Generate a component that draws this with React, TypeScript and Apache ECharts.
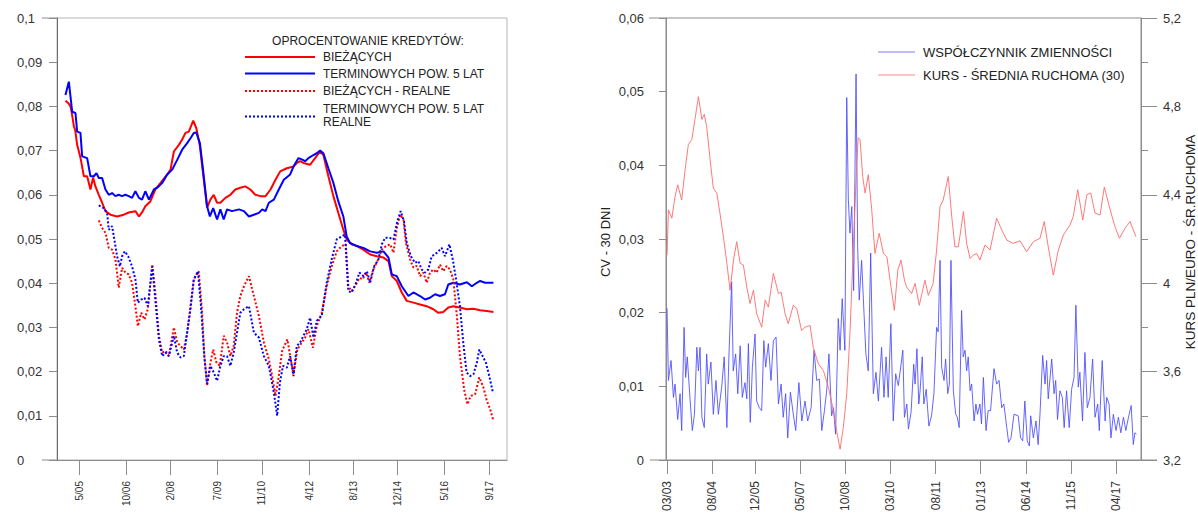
import React, { useEffect, useRef } from 'react';
import * as echarts from 'echarts';

const FONT = '"Liberation Sans", Arial, Helvetica, sans-serif';

// ---------- LEFT PANEL (x = months counted from 1/2005, 0 = 1/05) ----------
const LEFT_TICK_MONTHS = [4, 21, 37, 54, 70, 87, 103, 119, 136, 152];
const LEFT_TICK_LABELS = ['5/05', '10/06', '2/08', '7/09', '11/10', '4/12', '8/13', '12/14', '5/16', '9/17'];

const LEGEND_TITLE = 'OPROCENTOWANIE KREDYTÓW:';
const LEFT_NAMES = ['BIEŻĄCYCH', 'TERMINOWYCH POW. 5 LAT', 'BIEŻĄCYCH - REALNE', 'TERMINOWYCH POW. 5 LAT\nREALNE'];

const CURRENT: number[][] = [
  [-0.95, 0.0813], [0.14, 0.0807], [0.86, 0.08], [1.36, 0.0785], [2.09, 0.0755], [2.56, 0.0747], [3.28, 0.0713],
  [4.47, 0.0684], [5.7, 0.0642], [6.89, 0.0642], [8.08, 0.0612], [9.05, 0.0639], [9.88, 0.0619], [11.1, 0.06],
  [12.3, 0.0582], [13.5, 0.0563], [15.3, 0.0555], [17.7, 0.0551], [20.1, 0.0555], [21.9, 0.056], [24.3, 0.0563],
  [25.6, 0.0551], [26.7, 0.056], [27.9, 0.0574], [29.7, 0.0585], [31.5, 0.0612], [33.4, 0.0627], [35.8, 0.0646],
  [37.0, 0.0657], [38.2, 0.0698], [40.0, 0.0713], [41.2, 0.0725], [42.4, 0.074], [43.6, 0.0743], [45.2, 0.0768],
  [46.3, 0.0751], [47.6, 0.071], [49.0, 0.0634], [50.2, 0.0571], [51.4, 0.0589], [52.6, 0.06], [53.8, 0.0582],
  [55.0, 0.0582], [56.8, 0.0593], [58.6, 0.06], [60.4, 0.0612], [62.2, 0.0616], [64.0, 0.0619], [65.8, 0.0612],
  [67.6, 0.06], [69.5, 0.0597], [71.3, 0.0597], [73.1, 0.0612], [74.9, 0.0634], [76.6, 0.0653], [79.0, 0.066],
  [81.4, 0.0664], [82.6, 0.0672], [83.8, 0.0676], [85.0, 0.0672], [87.4, 0.0668], [89.2, 0.0683], [91.0, 0.0698],
  [92.2, 0.069], [94.0, 0.0642], [95.8, 0.0597], [97.6, 0.0559], [99.4, 0.0521], [100.6, 0.0499], [102.4, 0.0488],
  [104.3, 0.0484], [106.6, 0.0476], [109.1, 0.0465], [111.5, 0.0461], [113.9, 0.0458], [115.7, 0.045], [116.9, 0.0416],
  [118.7, 0.0405], [120.5, 0.0379], [122.3, 0.036], [124.7, 0.0356], [127.1, 0.0352], [129.5, 0.0348], [131.9, 0.0341],
  [133.7, 0.0333], [135.5, 0.0335], [137.3, 0.0345], [139.1, 0.0348], [141.5, 0.0345], [144.0, 0.0341], [146.3, 0.0342],
  [148.8, 0.0339], [151.2, 0.0337], [153.6, 0.0335],
];

const TERM5: number[][] = [
  [-0.95, 0.0826], [0.28, 0.0856], [1.47, 0.0788], [2.66, 0.0785], [3.28, 0.0743], [4.47, 0.074], [5.08, 0.0687],
  [6.89, 0.0683], [8.08, 0.0642], [9.31, 0.0642], [10.25, 0.0649], [11.1, 0.0638], [12.3, 0.0638], [13.5, 0.0612],
  [14.7, 0.06], [15.9, 0.0604], [17.1, 0.0597], [18.3, 0.06], [19.5, 0.0597], [20.7, 0.06], [21.9, 0.0597],
  [23.1, 0.0593], [24.3, 0.0608], [25.6, 0.0593], [26.7, 0.0589], [27.9, 0.0608], [29.2, 0.0589], [31.0, 0.0612],
  [32.2, 0.0616], [34.0, 0.0627], [35.8, 0.0646], [37.6, 0.0657], [39.4, 0.0679], [41.2, 0.0702], [43.0, 0.0717],
  [44.2, 0.0728], [45.4, 0.074], [46.3, 0.0741], [47.6, 0.0717], [49.0, 0.0642], [50.2, 0.0574], [51.2, 0.0551],
  [52.4, 0.057], [53.8, 0.0544], [55.0, 0.0567], [56.2, 0.0544], [57.4, 0.0567], [59.2, 0.0563], [61.7, 0.0567],
  [63.5, 0.0563], [65.3, 0.0551], [67.1, 0.0555], [68.9, 0.0559], [70.1, 0.0567], [71.3, 0.0563], [72.5, 0.0582],
  [74.3, 0.0589], [76.1, 0.0612], [77.9, 0.0634], [80.2, 0.0646], [81.4, 0.0664], [83.2, 0.0683], [84.4, 0.068],
  [85.6, 0.0676], [86.8, 0.0683], [88.6, 0.069], [89.8, 0.0694], [91.0, 0.07], [92.2, 0.0694], [94.0, 0.066],
  [95.8, 0.0627], [97.6, 0.0585], [99.4, 0.0551], [100.6, 0.0506], [101.8, 0.0491], [104.3, 0.0484], [106.6, 0.048],
  [109.1, 0.0472], [111.5, 0.0469], [113.9, 0.0472], [115.7, 0.0458], [116.9, 0.042], [118.7, 0.0416], [120.5, 0.0393],
  [122.9, 0.0371], [124.7, 0.0379], [127.1, 0.0371], [128.9, 0.0363], [130.7, 0.0367], [132.5, 0.0375], [134.3, 0.0371],
  [136.1, 0.0375], [137.3, 0.0397], [139.1, 0.0401], [141.5, 0.0397], [144.0, 0.0402], [145.8, 0.0393], [147.6, 0.0401],
  [148.8, 0.0405], [150.6, 0.0401], [153.6, 0.0401],
];

const CURRENT_REAL: number[][] = [
  [11.1, 0.0542], [12.3, 0.0525], [13.5, 0.0514], [14.7, 0.048], [15.9, 0.0476], [17.1, 0.0454], [18.3, 0.039],
  [19.5, 0.0435], [20.7, 0.0424], [21.9, 0.042], [23.1, 0.0401], [24.3, 0.0348], [25.2, 0.0303], [26.4, 0.0333],
  [27.6, 0.0318], [28.8, 0.0341], [30.4, 0.0442], [31.5, 0.0379], [32.8, 0.0281], [34.0, 0.0243], [35.2, 0.0247],
  [36.4, 0.0235], [38.2, 0.03], [39.4, 0.0266], [40.6, 0.0258], [41.8, 0.025], [43.0, 0.0288], [44.2, 0.0348],
  [45.4, 0.0409], [47.2, 0.0427], [48.4, 0.0333], [49.2, 0.0235], [50.2, 0.0168], [51.4, 0.022], [52.4, 0.025],
  [53.6, 0.022], [54.8, 0.0213], [56.2, 0.0281], [57.4, 0.0266], [58.6, 0.0235], [59.8, 0.0258], [61.0, 0.0333],
  [62.2, 0.0371], [63.5, 0.0393], [65.3, 0.0416], [67.1, 0.0371], [68.9, 0.0326], [70.7, 0.0266], [72.5, 0.0228],
  [73.7, 0.019], [74.9, 0.0145], [76.1, 0.019], [77.3, 0.0247], [79.2, 0.0273], [80.2, 0.0235], [81.4, 0.0194],
  [82.8, 0.025], [84.4, 0.0266], [85.6, 0.0277], [86.8, 0.0296], [88.4, 0.0254], [89.8, 0.0303], [91.6, 0.0333],
  [93.4, 0.0393], [95.2, 0.0438], [97.0, 0.0472], [98.8, 0.0484], [100.3, 0.0488], [101.2, 0.0393], [102.4, 0.0382],
  [104.0, 0.0397], [105.2, 0.0412], [106.4, 0.0409], [107.6, 0.0424], [108.8, 0.0401], [110.2, 0.0431], [111.7, 0.045],
  [113.3, 0.0476], [114.8, 0.0484], [116.3, 0.0488], [117.5, 0.0469], [118.7, 0.0525], [119.9, 0.0555], [121.1, 0.0544],
  [122.0, 0.0491], [123.5, 0.0454], [124.7, 0.0435], [125.9, 0.0439], [127.1, 0.0416], [128.3, 0.0424], [129.5, 0.0401],
  [130.7, 0.0424], [131.9, 0.0431], [133.1, 0.0424], [134.3, 0.0442], [135.5, 0.0427], [136.7, 0.0439], [137.9, 0.0431],
  [139.1, 0.0409], [140.4, 0.0326], [141.5, 0.0235], [143.0, 0.016], [144.2, 0.0126], [145.4, 0.0145], [147.0, 0.0149],
  [148.5, 0.0187], [150.0, 0.0164], [151.2, 0.0134], [152.4, 0.0115], [153.6, 0.0089],
];

const TERM5_REAL: number[][] = [
  [11.1, 0.0576], [12.9, 0.057], [14.1, 0.0559], [14.7, 0.0521], [15.9, 0.0529], [16.7, 0.0499], [17.7, 0.0461],
  [18.7, 0.0438], [19.5, 0.0461], [20.5, 0.0472], [21.7, 0.0461], [23.1, 0.0438], [24.3, 0.0409], [25.2, 0.0356],
  [26.4, 0.0363], [27.6, 0.0367], [28.8, 0.0348], [30.4, 0.0438], [31.5, 0.0363], [32.8, 0.0273], [34.0, 0.0235],
  [35.2, 0.0243], [36.4, 0.0235], [38.2, 0.0281], [39.4, 0.0243], [40.6, 0.0232], [41.8, 0.0235], [43.0, 0.0288],
  [44.2, 0.0341], [45.4, 0.0409], [46.9, 0.0427], [48.0, 0.0348], [49.2, 0.0235], [50.2, 0.0172], [51.4, 0.0213],
  [52.6, 0.0198], [53.8, 0.0179], [55.0, 0.0213], [56.2, 0.0235], [57.4, 0.0235], [58.6, 0.0213], [59.8, 0.0243],
  [61.0, 0.0288], [62.2, 0.0333], [63.5, 0.0341], [65.3, 0.0348], [67.1, 0.0288], [68.9, 0.0277], [70.7, 0.0235],
  [72.5, 0.0213], [74.3, 0.0153], [75.5, 0.01], [76.5, 0.0175], [77.6, 0.0213], [79.0, 0.0209], [80.2, 0.0235],
  [81.4, 0.019], [82.6, 0.0258], [83.8, 0.0266], [85.0, 0.0281], [86.2, 0.0296], [87.4, 0.0322], [88.6, 0.0277],
  [89.8, 0.0315], [91.6, 0.0326], [93.4, 0.0401], [95.2, 0.0454], [97.0, 0.0499], [98.8, 0.0506], [100.0, 0.051],
  [101.2, 0.0382], [102.4, 0.0379], [104.0, 0.0401], [105.2, 0.0424], [106.7, 0.0416], [107.9, 0.0427], [109.1, 0.0401],
  [110.5, 0.0438], [112.1, 0.0454], [113.3, 0.0488], [114.5, 0.0503], [116.0, 0.0503], [117.5, 0.0499], [118.9, 0.054],
  [120.1, 0.0563], [121.3, 0.054], [122.3, 0.0491], [123.8, 0.0461], [125.3, 0.0446], [126.5, 0.045], [127.7, 0.0431],
  [128.9, 0.0424], [130.1, 0.0431], [131.3, 0.0461], [132.5, 0.0465], [133.7, 0.0472], [134.9, 0.048], [136.1, 0.0461],
  [137.7, 0.0488], [138.9, 0.0454], [140.1, 0.0409], [141.5, 0.0348], [142.7, 0.0266], [143.9, 0.0198], [145.2, 0.019],
  [146.4, 0.0194], [147.6, 0.022], [148.5, 0.025], [149.7, 0.0235], [150.9, 0.022], [152.1, 0.019], [153.4, 0.0153],
];

// ---------- RIGHT PANEL (x = months counted from 03/2003, 0 = 03/03) ----------
const RIGHT_TICK_MONTHS = [0, 17, 33, 50, 67, 84, 101, 118, 135, 152, 169];
const RIGHT_TICK_LABELS = ['03/03', '08/04', '12/05', '05/07', '10/08', '03/10', '08/11', '01/13', '06/14', '11/15', '04/17'];
const RIGHT_NAMES = ['WSPÓŁCZYNNIK ZMIENNOŚCI', 'KURS - ŚREDNIA RUCHOMA (30)'];
const CV_AXIS_NAME = 'CV - 30 DNI';
const FX_AXIS_NAME = 'KURS PLN/EURO - ŚR.RUCHOMA';

const CV: number[][] = [
  [0, 0.0206], [0.5, 0.0108], [1.5, 0.0135], [2.4, 0.0085], [3.0, 0.0103], [4.0, 0.0055], [4.9, 0.009], [5.5, 0.004],
  [6.4, 0.018], [7.0, 0.0112], [7.6, 0.014], [8.6, 0.0085], [9.5, 0.004], [10.3, 0.0062], [11.2, 0.0153], [11.8, 0.0121],
  [12.4, 0.0153], [13.1, 0.0058], [14.0, 0.0044], [14.9, 0.0144], [15.5, 0.0103], [16.5, 0.0133], [17.4, 0.0062],
  [18.4, 0.0108], [19.3, 0.0062], [20.6, 0.0101], [21.5, 0.014], [22.5, 0.0044], [23.3, 0.0144], [24.3, 0.0242],
  [24.9, 0.0121], [25.8, 0.0144], [26.6, 0.009], [27.5, 0.0155], [28.3, 0.0085], [29.3, 0.0105], [30.0, 0.0083],
  [30.6, 0.0158], [31.3, 0.0051], [32.1, 0.0126], [33.1, 0.0171], [33.7, 0.008], [34.7, 0.0071], [35.6, 0.0067],
  [36.4, 0.0162], [37.1, 0.0126], [38.1, 0.0158], [39.1, 0.0108], [40.0, 0.0162], [41.0, 0.0167], [41.9, 0.0076],
  [42.9, 0.0103], [43.7, 0.0058], [44.6, 0.009], [45.4, 0.003], [46.4, 0.0092], [47.5, 0.0062], [48.4, 0.004],
  [49.6, 0.0105], [50.7, 0.0053], [51.9, 0.008], [52.9, 0.0053], [54.2, 0.0071], [55.3, 0.0149], [56.3, 0.0108],
  [57.3, 0.011], [58.2, 0.004], [59.2, 0.0067], [60.1, 0.0096], [60.9, 0.0144], [61.9, 0.006], [62.6, 0.0071],
  [63.4, 0.0035], [64.4, 0.0192], [65.1, 0.0149], [65.9, 0.0219], [66.9, 0.0149], [67.6, 0.0492], [68.2, 0.0353],
  [68.8, 0.0308], [69.5, 0.0344], [70.2, 0.023], [71.1, 0.0524], [71.7, 0.029], [72.3, 0.0217], [73.2, 0.0271],
  [74.1, 0.0199], [74.8, 0.0144], [75.7, 0.0121], [76.6, 0.0281], [77.6, 0.009], [78.6, 0.0119], [79.5, 0.008],
  [80.7, 0.0153], [81.6, 0.0085], [82.4, 0.014], [83.2, 0.0085], [84.2, 0.0185], [85.1, 0.0053], [86.0, 0.0117],
  [87.0, 0.0101], [88.7, 0.0149], [89.3, 0.0058], [90.2, 0.0076], [90.8, 0.0042], [91.8, 0.0065], [92.8, 0.013],
  [93.3, 0.0103], [94.0, 0.0151], [94.7, 0.0076], [95.2, 0.0094], [96.0, 0.014], [96.6, 0.0076], [97.5, 0.0096],
  [98.5, 0.0046], [99.5, 0.006], [100.4, 0.009], [101.4, 0.018], [102.0, 0.0174], [102.7, 0.0271], [103.3, 0.0126],
  [104.2, 0.0108], [104.8, 0.0137], [105.6, 0.009], [106.2, 0.0103], [106.8, 0.0271], [107.7, 0.0094], [108.6, 0.0062],
  [109.2, 0.0058], [109.9, 0.0044], [110.8, 0.0203], [111.4, 0.014], [112.1, 0.0149], [112.7, 0.0121], [113.3, 0.014],
  [114.0, 0.0094], [114.6, 0.0103], [115.5, 0.0053], [116.2, 0.0076], [116.8, 0.0062], [117.7, 0.0076], [118.3, 0.0049],
  [119.0, 0.0112], [120.0, 0.004], [120.8, 0.0067], [121.7, 0.0067], [123.0, 0.0124], [124.0, 0.0103], [124.9, 0.0108],
  [125.9, 0.0071], [126.7, 0.0076], [127.8, 0.0044], [128.5, 0.0024], [129.4, 0.003], [130.5, 0.0062], [132.1, 0.006],
  [133.0, 0.003], [133.8, 0.0026], [134.6, 0.008], [135.5, 0.0026], [136.3, 0.0019], [136.8, 0.006], [137.8, 0.003],
  [138.8, 0.0053], [139.6, 0.0021], [140.3, 0.0062], [141.3, 0.0142], [142.2, 0.0103], [142.8, 0.0135], [143.4, 0.0083],
  [144.7, 0.0137], [145.6, 0.009], [146.2, 0.0108], [146.9, 0.0055], [147.8, 0.0094], [148.7, 0.0085], [149.4, 0.0044],
  [150.3, 0.0094], [151.3, 0.0044], [152.2, 0.0096], [153.1, 0.0112], [153.8, 0.021], [154.7, 0.0099], [155.3, 0.0119],
  [156.3, 0.0053], [157.2, 0.0146], [158.1, 0.0071], [159.1, 0.0085], [160.1, 0.0137], [161.0, 0.0058], [162.0, 0.0076],
  [162.6, 0.004], [163.7, 0.0135], [164.8, 0.0053], [165.4, 0.0085], [166.3, 0.0076], [167.0, 0.003], [167.9, 0.0062],
  [168.9, 0.004], [169.8, 0.0058], [170.7, 0.0037], [171.7, 0.0058], [172.6, 0.004], [173.6, 0.0058], [174.6, 0.0074],
  [175.4, 0.0021], [176.0, 0.0037], [176.6, 0.0035],
];

const FX_MA: number[][] = [
  [0, 4.127], [0.5, 4.332], [1.8, 4.294], [3.0, 4.392], [4.0, 4.445], [5.5, 4.377], [6.8, 4.514], [8.0, 4.627],
  [9.3, 4.65], [10.5, 4.741], [11.8, 4.844], [13.1, 4.741], [14.0, 4.764], [14.9, 4.71], [16.2, 4.559], [17.4, 4.43],
  [18.7, 4.408], [19.9, 4.317], [21.2, 4.21], [22.5, 4.09], [23.7, 3.968], [25.0, 4.105], [26.2, 4.188], [27.5, 4.09],
  [28.7, 4.082], [30.0, 3.983], [31.2, 3.908], [32.5, 3.968], [33.7, 3.862], [35.6, 3.801], [36.9, 3.923], [38.1, 3.892],
  [40.0, 4.044], [41.9, 3.953], [42.9, 3.96], [44.4, 3.862], [45.6, 3.817], [47.5, 3.9], [48.8, 3.885], [50.6, 3.786],
  [51.9, 3.801], [53.8, 3.809], [55.0, 3.71], [56.9, 3.635], [58.8, 3.605], [60.7, 3.529], [62.6, 3.423], [63.8, 3.332],
  [65.1, 3.249], [66.3, 3.347], [67.6, 3.499], [68.8, 3.771], [70.1, 4.165], [71.3, 4.529], [71.9, 4.658], [72.6, 4.65],
  [73.6, 4.483], [74.5, 4.408], [75.7, 4.491], [77.0, 4.332], [78.2, 4.135], [79.8, 4.226], [81.4, 4.135], [82.7, 4.12],
  [83.9, 4.014], [85.5, 3.877], [86.8, 4.059], [88.0, 4.105], [89.3, 4.014], [90.1, 3.983], [92.0, 3.953], [93.3, 3.999],
  [94.9, 3.9], [97.0, 4.014], [98.3, 3.945], [100.1, 3.999], [101.4, 4.15], [102.7, 4.347], [103.9, 4.377], [105.8, 4.483],
  [107.1, 4.301], [108.3, 4.165], [109.6, 4.165], [111.5, 4.324], [112.7, 4.18], [114.0, 4.112], [115.2, 4.127],
  [116.5, 4.135], [117.7, 4.105], [119.6, 4.173], [121.5, 4.15], [124.0, 4.294], [125.9, 4.241], [127.8, 4.195],
  [130.2, 4.18], [132.8, 4.192], [135.3, 4.142], [137.8, 4.188], [140.3, 4.203], [141.9, 4.279], [143.4, 4.165],
  [145.3, 4.036], [147.2, 4.15], [149.1, 4.218], [151.6, 4.264], [152.8, 4.301], [154.5, 4.423], [156.4, 4.286],
  [157.9, 4.4], [159.4, 4.408], [161.0, 4.317], [162.9, 4.309], [164.5, 4.435], [166.7, 4.332], [168.5, 4.256],
  [170.2, 4.203], [172.3, 4.249], [174.2, 4.279], [175.4, 4.241], [176.4, 4.211],
];

const AXIS_COLOR = '#8c8c8c';
const LABEL_COLOR = '#333333';

const commaNum = (v: number, digits: number) => (v === 0 ? '0' : String(+v.toFixed(digits)).replace('.', ','));
const pickLabel = (ticks: number[], labels: string[]) => (v: number) => {
  const i = ticks.findIndex((t) => Math.abs(t - v) < 0.01);
  return i >= 0 ? labels[i] : '';
};

function buildOption() {
  const legendText = (text: string, x: number, y: number, size: number, align = 'left') => ({
    type: 'text', x, y, silent: true,
    style: { text, fill: '#222', font: `${size}px ${FONT}`, textAlign: align, textVerticalAlign: 'middle', verticalAlign: 'middle' },
  });
  const legendLine = (x1: number, x2: number, y: number, color: string, width: number, dash?: number[]) => ({
    type: 'line', silent: true, shape: { x1, y1: y, x2, y2: y },
    style: { stroke: color, lineWidth: width, lineDash: dash },
  });
  const frameLine = (x1: number, y1: number, x2: number, y2: number) => ({
    type: 'line', silent: true, shape: { x1, y1, x2, y2 }, style: { stroke: AXIS_COLOR, lineWidth: 1 },
  });

  return {
    animation: false,
    backgroundColor: '#ffffff',
    textStyle: { fontFamily: FONT },
    grid: [
      { left: 57, top: 18, width: 450, height: 442, show: true, borderColor: '#b5b5b5', borderWidth: 1, outerBoundsMode: 'none', containLabel: false },
      { left: 666, top: 18, width: 475, height: 442, show: true, borderColor: AXIS_COLOR, borderWidth: 1, outerBoundsMode: 'none', containLabel: false },
    ],
    xAxis: [
      {
        type: 'value', gridIndex: 0, min: -4, max: 158.5,
        axisLine: { show: true, onZero: false, lineStyle: { color: AXIS_COLOR } },
        axisTick: { show: true, length: 15, lineStyle: { color: AXIS_COLOR }, customValues: LEFT_TICK_MONTHS },
        axisLabel: {
          customValues: LEFT_TICK_MONTHS, rotate: 90, margin: 21, fontSize: 10, color: LABEL_COLOR, fontFamily: FONT,
          formatter: pickLabel(LEFT_TICK_MONTHS, LEFT_TICK_LABELS),
        },
        splitLine: { show: false },
      },
      {
        type: 'value', gridIndex: 1, min: -0.4, max: 178.3,
        axisLine: { show: true, onZero: false, lineStyle: { color: AXIS_COLOR } },
        axisTick: { show: true, length: 14, lineStyle: { color: AXIS_COLOR }, customValues: RIGHT_TICK_MONTHS },
        axisLabel: {
          customValues: RIGHT_TICK_MONTHS, rotate: 90, margin: 21, fontSize: 12, color: LABEL_COLOR, fontFamily: FONT,
          formatter: pickLabel(RIGHT_TICK_MONTHS, RIGHT_TICK_LABELS),
        },
        splitLine: { show: false },
      },
    ],
    yAxis: [
      {
        type: 'value', gridIndex: 0, min: 0, max: 0.1, interval: 0.01,
        axisLine: { show: true, onZero: false, lineStyle: { color: '#6e6e6e' } },
        axisTick: { show: true, length: 8, lineStyle: { color: AXIS_COLOR } },
        axisLabel: { margin: 40, align: 'left', fontSize: 13, color: LABEL_COLOR, fontFamily: FONT, formatter: (v: number) => commaNum(v, 2) },
        splitLine: { show: false },
      },
      {
        type: 'value', gridIndex: 1, min: 0, max: 0.06, interval: 0.01, position: 'left',
        axisLine: { show: true, onZero: false, lineStyle: { color: AXIS_COLOR } },
        axisTick: { show: true, length: 7, lineStyle: { color: AXIS_COLOR } },
        axisLabel: { margin: 22, fontSize: 13, color: LABEL_COLOR, fontFamily: FONT, formatter: (v: number) => commaNum(v, 2) },
        splitLine: { show: false },
      },
      {
        type: 'value', gridIndex: 1, min: 3.2, max: 5.2, interval: 0.4, position: 'right',
        axisLine: { show: true, onZero: false, lineStyle: { color: AXIS_COLOR } },
        axisTick: { show: true, length: 16, lineStyle: { color: AXIS_COLOR } },
        minorTick: { show: true, splitNumber: 2, length: 7, lineStyle: { color: AXIS_COLOR } },
        axisLabel: { margin: 22, fontSize: 13, color: LABEL_COLOR, fontFamily: FONT, formatter: (v: number) => commaNum(v, 1) },
        splitLine: { show: false },
      },
    ],
    series: [
      { name: LEFT_NAMES[0], type: 'line', xAxisIndex: 0, yAxisIndex: 0, data: CURRENT, symbol: 'none', lineStyle: { color: '#ff0000', width: 2 } },
      { name: LEFT_NAMES[1], type: 'line', xAxisIndex: 0, yAxisIndex: 0, data: TERM5, symbol: 'none', lineStyle: { color: '#0000ff', width: 2 } },
      { name: LEFT_NAMES[2], type: 'line', xAxisIndex: 0, yAxisIndex: 0, data: CURRENT_REAL, symbol: 'none', lineStyle: { color: '#ff0000', width: 2, type: [2, 2] } },
      { name: LEFT_NAMES[3], type: 'line', xAxisIndex: 0, yAxisIndex: 0, data: TERM5_REAL, symbol: 'none', lineStyle: { color: '#0000ff', width: 2, type: [2, 2] } },
      { name: RIGHT_NAMES[0], type: 'line', xAxisIndex: 1, yAxisIndex: 1, data: CV, symbol: 'none', lineStyle: { color: '#4a4aff', width: 1, opacity: 0.85 } },
      { name: RIGHT_NAMES[1], type: 'line', xAxisIndex: 1, yAxisIndex: 2, data: FX_MA, symbol: 'none', lineStyle: { color: '#ff6a6a', width: 1, opacity: 0.9 } },
    ],
    graphic: [
      // frame extensions beyond the axes
      frameLine(42, 18, 57, 18),
      frameLine(42, 460, 57, 460),
      frameLine(649, 18, 666, 18),
      frameLine(650, 460, 666, 460),
      frameLine(1141, 460, 1157, 460),
      // left legend
      legendText(LEGEND_TITLE, 368, 41, 12, 'center'),
      legendLine(245, 315, 57, '#ff0000', 2),
      legendText(LEFT_NAMES[0], 323, 57, 12),
      legendLine(245, 315, 73.5, '#0000ff', 2),
      legendText(LEFT_NAMES[1], 323, 73.5, 12),
      legendLine(245, 315, 91, '#ff0000', 2, [2, 2]),
      legendText(LEFT_NAMES[2], 323, 91, 12),
      legendLine(245, 315, 116.5, '#0000ff', 2, [2, 2]),
      legendText('TERMINOWYCH POW. 5 LAT', 323, 109, 12),
      legendText('REALNE', 323, 122, 12),
      // right legend
      legendLine(878, 915, 52, '#7a7aff', 1),
      legendText(RIGHT_NAMES[0], 923, 52, 13),
      legendLine(878, 915, 75, '#ff8a8a', 1),
      legendText(RIGHT_NAMES[1], 923, 75, 13),
      // axis names
      { type: 'text', x: 605, y: 242, rotation: Math.PI / 2, silent: true,
        style: { text: CV_AXIS_NAME, fill: '#222', font: `13px ${FONT}`, textAlign: 'center', textVerticalAlign: 'middle', verticalAlign: 'middle' } },
      { type: 'text', x: 1190, y: 242, rotation: Math.PI / 2, silent: true,
        style: { text: FX_AXIS_NAME, fill: '#222', font: `13.5px ${FONT}`, textAlign: 'center', textVerticalAlign: 'middle', verticalAlign: 'middle' } },
    ],
  };
}

export default function App() {
  const ref = useRef<HTMLDivElement>(null);
  useEffect(() => {
    if (!ref.current) return;
    const chart = echarts.init(ref.current, undefined, { renderer: 'svg' });
    chart.setOption(buildOption() as any);
    return () => chart.dispose();
  }, []);
  return <div ref={ref} style={{ position: 'fixed', left: 0, top: 0, width: 1198, height: 513, background: '#fff' }} />;
}
